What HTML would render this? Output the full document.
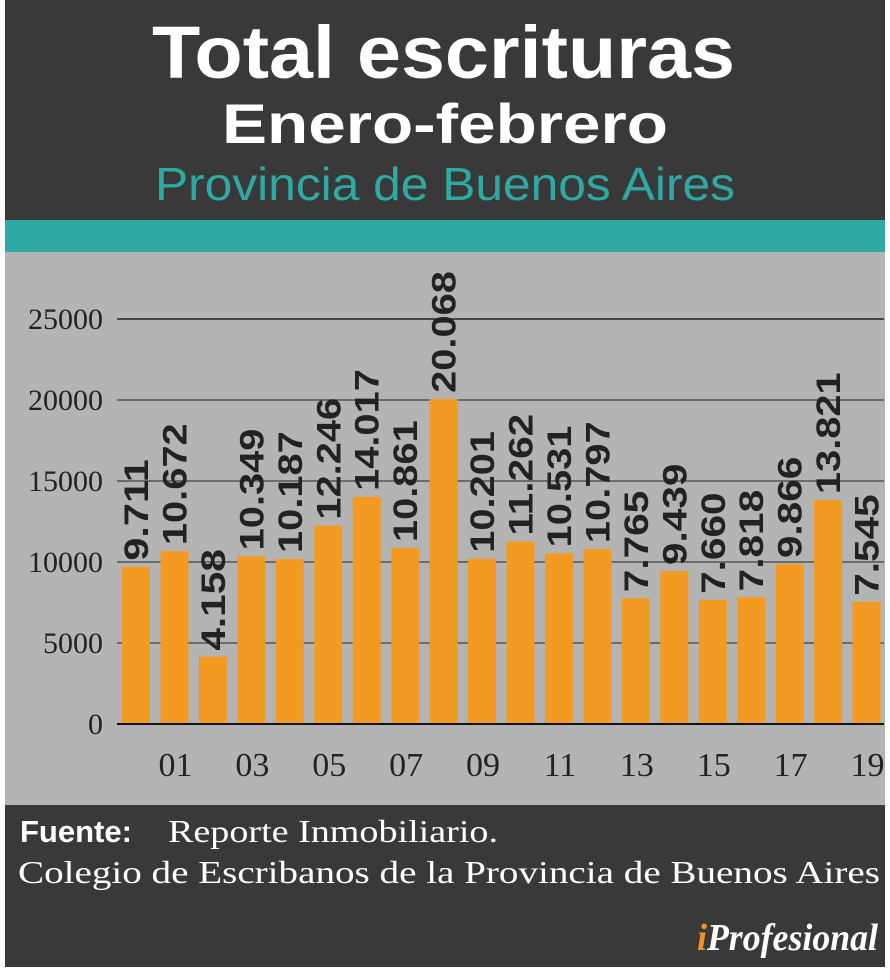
<!DOCTYPE html>
<html><head><meta charset="utf-8"><style>
body{margin:0;background:#fff;width:890px;height:975px;overflow:hidden;font-family:"Liberation Sans",sans-serif}
</style></head><body>
<svg width="890" height="975">
<rect x="5" y="0" width="880" height="220" fill="#393939"/>
<text x="152" y="78" textLength="583" lengthAdjust="spacingAndGlyphs" font-size="74" font-weight="bold" fill="#fff">Total escrituras</text>
<text x="222" y="143" textLength="446" lengthAdjust="spacingAndGlyphs" font-size="56" font-weight="bold" fill="#fff">Enero-febrero</text>
<text x="155" y="200" textLength="580" lengthAdjust="spacingAndGlyphs" font-size="46" fill="#2fa9a3">Provincia de Buenos Aires</text>
<rect x="5" y="220" width="880" height="32" fill="#2fa9a3"/>
<rect x="5" y="252" width="880" height="553" fill="#b4b4b4"/>
<g id="chart"></g>
<rect x="5" y="805" width="880" height="162" fill="#393939"/>
<text x="20" y="842" font-size="31" font-weight="bold" fill="#fff">Fuente:</text>
<text x="168" y="842" textLength="330" lengthAdjust="spacingAndGlyphs" font-family="Liberation Serif" font-size="32" fill="#fff">Reporte Inmobiliario.</text>
<text x="18" y="883" textLength="862" lengthAdjust="spacingAndGlyphs" font-family="Liberation Serif" font-size="32" fill="#fff">Colegio de Escribanos de la Provincia de Buenos Aires</text>
<text x="697" y="950" textLength="181" lengthAdjust="spacingAndGlyphs" font-family="Liberation Serif" font-size="38" font-style="italic" font-weight="bold" fill="#fff"><tspan fill="#f0942a">i</tspan>Profesional</text>
</svg>
<script>
const categories=["00","01","02","03","04","05","06","07","08","09","10","11","12","13","14","15","16","17","18","19"];
const values=[9711,10672,4158,10349,10187,12246,14017,10861,20068,10201,11262,10531,10797,7765,9439,7660,7818,9866,13821,7545];
const valueLabels=["9.711","10.672","4.158","10.349","10.187","12.246","14.017","10.861","20.068","10.201","11.262","10.531","10.797","7.765","9.439","7.660","7.818","9.866","13.821","7.545"];
const yTicks=[0,5000,10000,15000,20000,25000];
const NS="http://www.w3.org/2000/svg";
const g=document.getElementById('chart');
const y0=724,yTop=319,maxV=25000;
const y=v=>y0-(v/maxV)*(y0-yTop);
const x=i=>136+i*38.45;
function mk(t,a){const e=document.createElementNS(NS,t);for(const k in a)e.setAttribute(k,a[k]);g.appendChild(e);return e;}
yTicks.forEach(t=>{
  if(t>0){const l=mk('line',{x1:117,x2:884,y1:y(t),y2:y(t),stroke:t==25000?'#222':'#555','stroke-width':1.5});
  
  }
  const tx=mk('text',{x:103,y:y(t)+10,'text-anchor':'end','font-family':'Liberation Serif','font-size':30,fill:'#222'});
  tx.textContent=t;
  
  
});
values.forEach((v,i)=>{
  const b=mk('rect',{x:x(i)-14,y:y(v),width:28,height:y0-y(v),fill:'#f39a22'});
  
  
  const lbl=valueLabels[i];
  const t=mk('text',{transform:`translate(${x(i)+12},${y(v)-6}) rotate(-90)`,'font-size':34,'font-weight':'bold',fill:'#222',textLength:lbl.length*20.3,lengthAdjust:'spacingAndGlyphs'});
  t.textContent=lbl;
  
  
  if(i%2==1){const c=mk('text',{x:x(i)+1,y:776,'text-anchor':'middle','font-family':'Liberation Serif','font-size':34,fill:'#222'});
  c.textContent=categories[i];
  
  }
});
const ax=mk('line',{x1:117,x2:884,y1:y0,y2:y0,stroke:'#111','stroke-width':2});


</script>
</body></html>
